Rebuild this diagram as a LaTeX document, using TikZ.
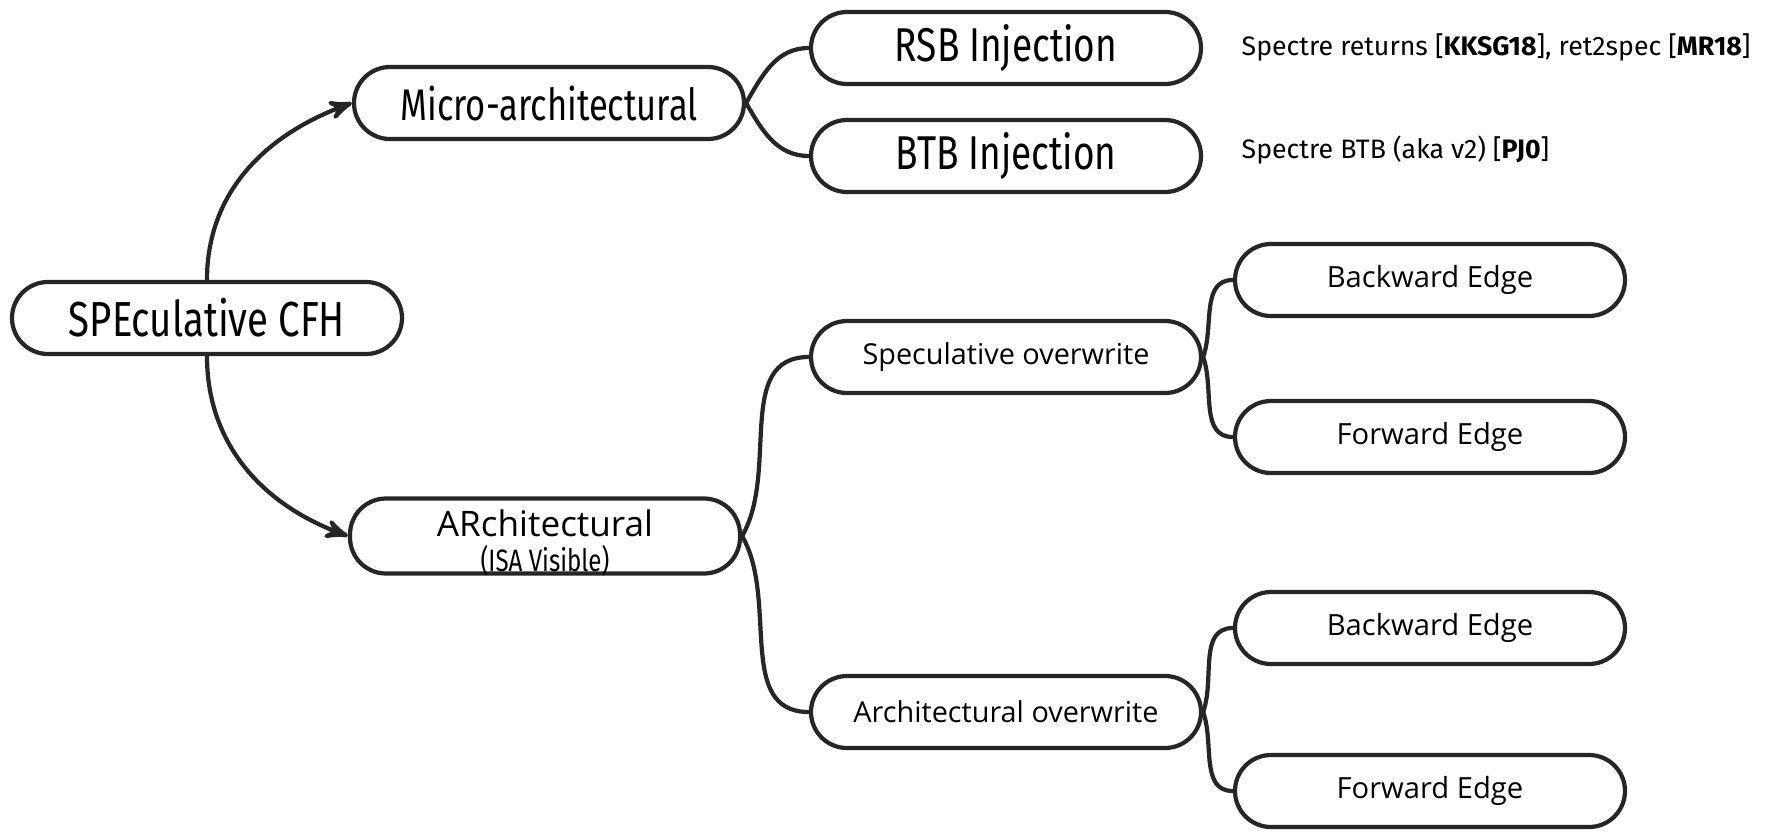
\documentclass[tikz,border=0pt]{standalone}
\usepackage{fontspec}
\setmainfont{Fira Sans}
\newfontfamily\narrowfont[FakeStretch=0.78]{Fira Sans}
\newfontfamily\boxfont{Open Sans}
\usetikzlibrary{arrows,positioning}
\tikzstyle{line} = [draw=black!85, -stealth', line width=1.2pt]
\tikzstyle{branch} = [draw=black!85, line width=1.2pt]
\tikzstyle{pill} = [draw=black!85, line width=1.2pt, rounded corners=0.36cm, minimum width=3.9cm, minimum height=0.72cm, inner sep=0pt]
\tikzstyle{note} = [anchor=west, inner sep=0pt, font=\fontsize{7.6}{9}\selectfont]

\begin{document}
\begin{tikzpicture}
		\useasboundingbox (0,0) rectangle (17.72,-8.31);
		%\draw[help lines,step=1] (0,-9) grid (18,0);
		\node[pill, font=\narrowfont\fontsize{14}{16}\selectfont] (spe)    at (2.07,-3.18)  {SPEculative CFH};      % root
		\node[pill, font=\narrowfont\fontsize{12.6}{14}\selectfont] (micro)  at (5.49,-1.03)  {Micro-architectural};  % upper branch
		\node[pill, minimum height=0.75cm, align=center, font=\boxfont\fontsize{10}{11}\selectfont] (arch) at (5.45,-5.36) {\rule{0pt}{10.2pt}ARchitectural\\[-1.25pt]\smash{\narrowfont\fontsize{8.8}{9}\selectfont (ISA Visible)}}; % lower branch
		\node[pill, font=\narrowfont\fontsize{13.5}{15}\selectfont] (rsb)  at (10.06,-0.48) {RSB Injection};
		\node[pill, font=\narrowfont\fontsize{13.5}{15}\selectfont] (btb)  at (10.06,-1.56) {BTB Injection};
		\node[pill, font=\boxfont\fontsize{8.2}{10}\selectfont] (specow) at (10.06,-3.57) {Speculative overwrite};
		\node[pill, font=\boxfont\fontsize{8.2}{10}\selectfont] (archow) at (10.06,-7.12) {Architectural overwrite};
		\node[pill, font=\boxfont\fontsize{8.3}{10}\selectfont] (bwdA)   at (14.30,-2.80) {Backward Edge};
		\node[pill, font=\boxfont\fontsize{8.3}{10}\selectfont] (fwdA)   at (14.30,-4.37) {Forward Edge};
		\node[pill, font=\boxfont\fontsize{8.3}{10}\selectfont] (bwdB)   at (14.30,-6.28) {Backward Edge};
		\node[pill, font=\boxfont\fontsize{8.3}{10}\selectfont] (fwdB)   at (14.30,-7.91) {Forward Edge};
		% references beside the injections
		\node[note] (rsbref) at (12.41,-0.47) {Spectre returns [\textbf{KKSG18}], ret2spec [\textbf{MR18}]};
		\node[note] (btbref) at (12.41,-1.50) {Spectre BTB (aka v2) [\textbf{PJ0}]};
		% connectors
		\draw[line] (spe.north) to[out=90,in=200] (micro.west);
		\draw[line] (spe.south) to[out=-90,in=160] (arch.west);
		\draw[branch] (micro.east) to[out=60,in=180] (rsb.west);
		\draw[branch] (micro.east) to[out=-60,in=180] (btb.west);
		\draw[branch] (arch.east) to[out=60,in=180] (specow.west);
		\draw[branch] (arch.east) to[out=-60,in=180] (archow.west);
		\draw[branch] (specow.east) to[out=70,in=180] (bwdA.west);
		\draw[branch] (specow.east) to[out=-70,in=180] (fwdA.west);
		\draw[branch] (archow.east) to[out=70,in=180] (bwdB.west);
		\draw[branch] (archow.east) to[out=-70,in=180] (fwdB.west);
\end{tikzpicture}
\end{document}
